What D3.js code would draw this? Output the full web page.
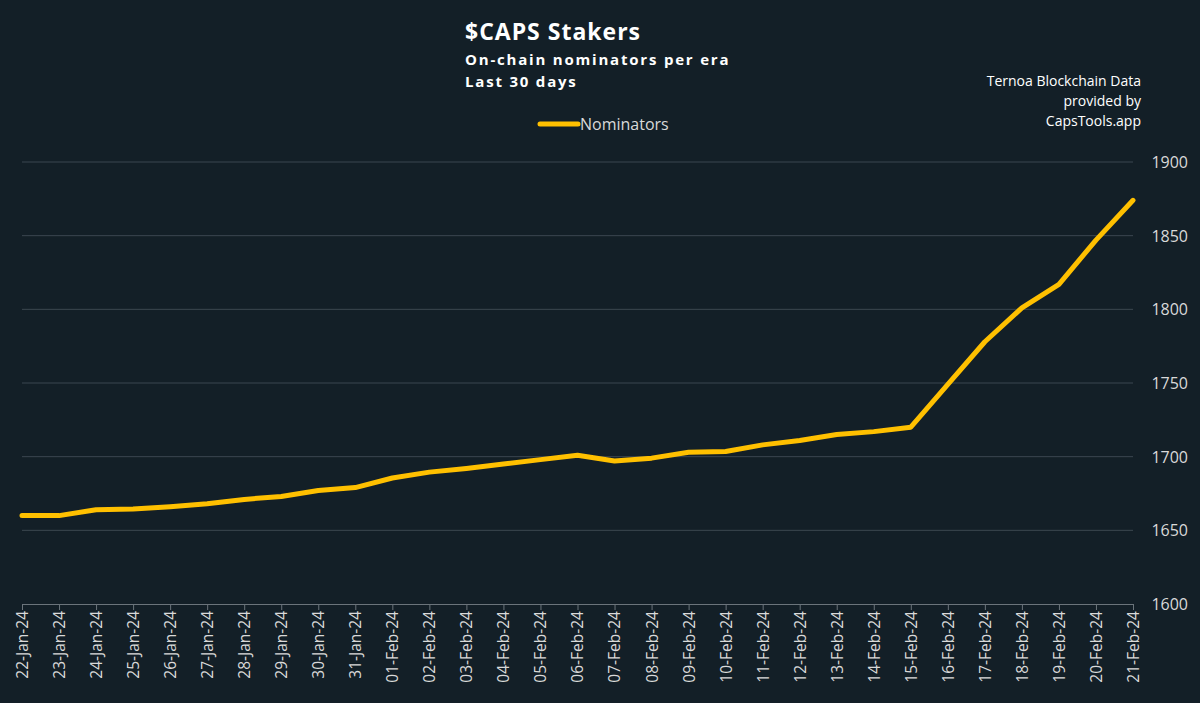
<!DOCTYPE html>
<html><head><meta charset="utf-8">
<script src="https://cdn.jsdelivr.net/npm/d3@7"></script>
<style>
body{margin:0;background:#131f27;}
text{font-family:"Open Sans","Noto Sans",sans-serif;}
</style></head><body>
<svg id="chart" width="1200" height="703"></svg>
<script>
var dates = ["22-Jan-24","23-Jan-24","24-Jan-24","25-Jan-24","26-Jan-24","27-Jan-24","28-Jan-24","29-Jan-24","30-Jan-24","31-Jan-24",
  "01-Feb-24","02-Feb-24","03-Feb-24","04-Feb-24","05-Feb-24","06-Feb-24","07-Feb-24","08-Feb-24","09-Feb-24","10-Feb-24",
  "11-Feb-24","12-Feb-24","13-Feb-24","14-Feb-24","15-Feb-24","16-Feb-24","17-Feb-24","18-Feb-24","19-Feb-24","20-Feb-24","21-Feb-24"];
var nominators = [1660,1660,1664,1664.5,1666,1668,1671,1673,1677,1679,
  1685.5,1689.5,1692,1695,1698,1701,1697,1699,1703,1703.5,
  1708,1711,1715,1717,1720,1749,1778,1801,1817,1847,1874];
var yTicks = [1600,1650,1700,1750,1800,1850,1900];

var svg = d3.select("#chart");
var x = d3.scalePoint().domain(dates).range([22, 1133]);
var y = d3.scaleLinear().domain([1600, 1900]).range([604, 162]);

svg.append("g").selectAll("line").data(yTicks.slice(1)).join("line")
  .attr("x1", 22).attr("x2", 1133)
  .attr("y1", function (d) { return y(d); }).attr("y2", function (d) { return y(d); })
  .attr("stroke", "#3b4750").attr("stroke-width", 1);

svg.append("g").selectAll("text").data(yTicks).join("text")
  .attr("x", 1188).attr("y", function (d) { return y(d) + 6; })
  .attr("text-anchor", "end").attr("fill", "#d9d9d9").style("font-size", "16px")
  .text(function (d) { return d; });

var xAxis = svg.append("g").attr("transform", "translate(0,604)")
  .call(d3.axisBottom(x).tickSize(6).tickSizeOuter(0));
xAxis.select(".domain").attr("stroke", "#6b747b");
xAxis.selectAll(".tick line").attr("stroke", "#6b747b");
xAxis.selectAll(".tick text")
  .attr("fill", "#d9d9d9").style("font-size", "15.5px")
  .attr("transform", "rotate(-90)").attr("text-anchor", "end")
  .attr("x", -7).attr("y", 0).attr("dy", "0.35em");

var line = d3.line()
  .x(function (d, i) { return x(dates[i]); })
  .y(function (d) { return y(d); });
svg.append("path").attr("d", line(nominators))
  .attr("fill", "none").attr("stroke", "#ffc000").attr("stroke-width", 5)
  .attr("stroke-linejoin", "round").attr("stroke-linecap", "round");

svg.append("text").attr("x", 465).attr("y", 40).attr("fill", "#fff")
  .style("font-size", "23px").style("font-weight", "bold").style("letter-spacing", "1px").text("$CAPS Stakers");
svg.append("text").attr("x", 465).attr("y", 65).attr("fill", "#fff")
  .style("font-size", "15px").style("font-weight", "bold").style("letter-spacing", "1.8px").text("On-chain nominators per era");
svg.append("text").attr("x", 465).attr("y", 87).attr("fill", "#fff")
  .style("font-size", "15px").style("font-weight", "bold").style("letter-spacing", "1.8px").text("Last 30 days");

["Ternoa Blockchain Data", "provided by", "CapsTools.app"].forEach(function (t, i) {
  svg.append("text").attr("x", 1141).attr("y", 86 + i * 20).attr("text-anchor", "end")
    .attr("fill", "#fff").style("font-size", "14px").text(t);
});

svg.append("line").attr("x1", 540).attr("x2", 578).attr("y1", 124).attr("y2", 124)
  .attr("stroke", "#ffc000").attr("stroke-width", 5).attr("stroke-linecap", "round");
svg.append("text").attr("x", 580).attr("y", 130).attr("fill", "#d9d9d9")
  .style("font-size", "16px").text("Nominators");
</script>
</body></html>
